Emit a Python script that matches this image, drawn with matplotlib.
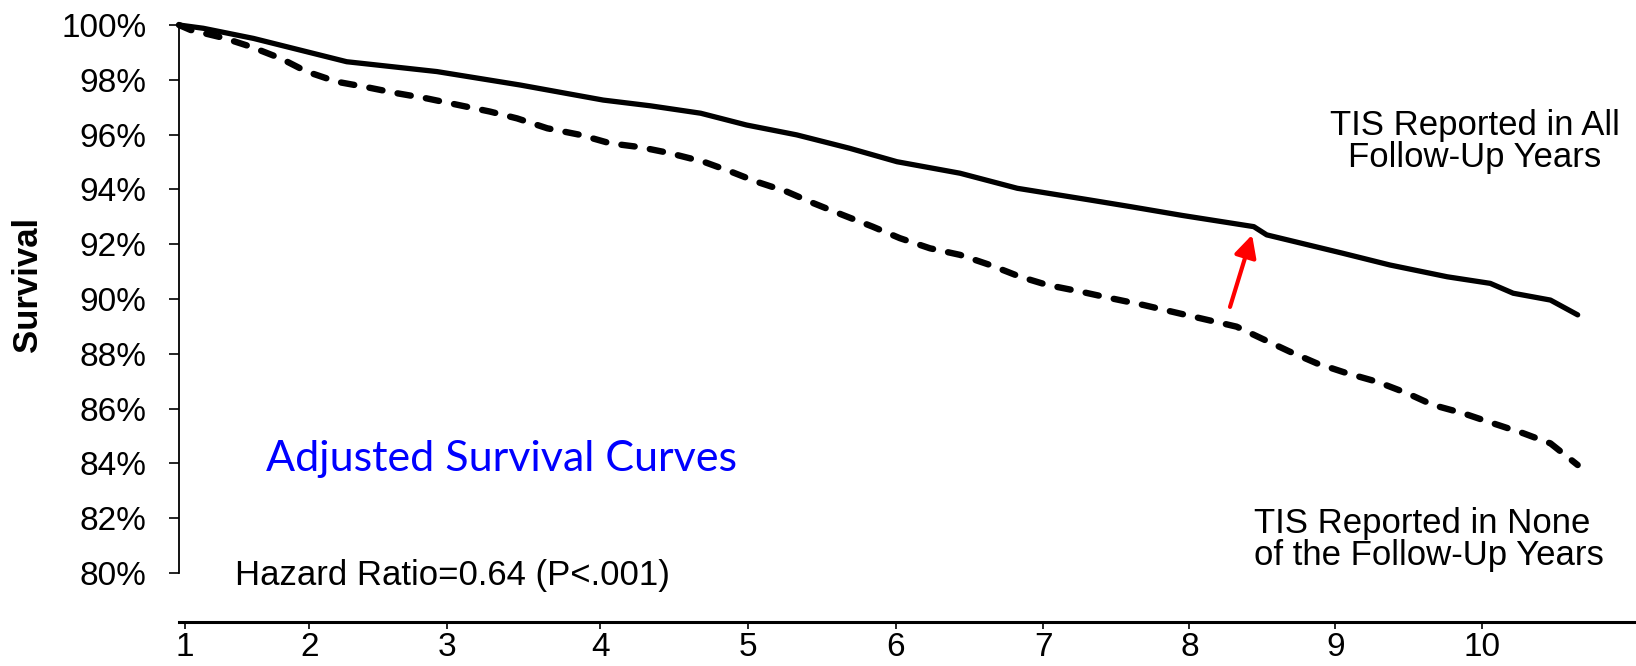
import matplotlib
matplotlib.use('Agg')
import matplotlib.pyplot as plt

plt.rcParams['font.family'] = ['Liberation Sans', 'DejaVu Sans']

# survival curves (years since baseline, survival %)
years_all = [1.0, 1.17, 1.52, 2.17, 2.80, 3.38, 3.96, 4.29, 4.64, 4.96, 5.31, 5.68,
             6.01, 6.45, 6.85, 7.36, 7.64, 8.0, 8.50, 8.59, 9.12, 9.45, 9.85,
             10.15, 10.31, 10.57, 10.76]
surv_all = [100.0, 99.88, 99.51, 98.66, 98.30, 97.81, 97.26, 97.05, 96.78, 96.35, 95.99, 95.50,
            95.01, 94.59, 94.04, 93.61, 93.37, 93.05, 92.64, 92.34, 91.67, 91.24, 90.81,
            90.57, 90.21, 89.96, 89.42]

years_none = [1.0, 1.08, 1.31, 1.50, 1.71, 1.89, 2.10, 2.31, 2.52, 2.73, 2.95, 3.17,
              3.36, 3.57, 3.80, 4.01, 4.22, 4.41, 4.66, 4.85, 5.03, 5.24, 5.43, 5.63,
              5.84, 6.03, 6.24, 6.45, 6.66, 6.87, 7.06, 7.29, 7.50, 7.73, 8.0, 8.38,
              8.55, 8.75, 8.94, 9.15, 9.36, 9.57, 9.75, 9.96, 10.17, 10.38, 10.57, 10.76]
surv_none = [100.0, 99.82, 99.53, 99.21, 98.78, 98.30, 97.93, 97.73, 97.51, 97.32, 97.08, 96.84,
             96.59, 96.23, 95.99, 95.68, 95.54, 95.34, 95.01, 94.65, 94.28, 93.92, 93.49, 93.07,
             92.64, 92.22, 91.85, 91.61, 91.24, 90.81, 90.51, 90.27, 90.03, 89.78, 89.45, 88.99,
             88.57, 88.08, 87.65, 87.29, 86.98, 86.56, 86.13, 85.83, 85.46, 85.10, 84.73, 83.94]

# x ticks sit a bit unevenly in the original drawing
xtick_pos = [1.04, 1.91, 2.87, 3.94, 4.97, 6.0, 7.03, 8.05, 9.07, 10.09]
xtick_labels = ['1', '2', '3', '4', '5', '6', '7', '8', '9', '10']
ytick_vals = [80, 82, 84, 86, 88, 90, 92, 94, 96, 98, 100]

fig = plt.figure(figsize=(16.36, 6.66), dpi=100)
ax = fig.add_axes([179 / 1636, 44 / 666, 1 - 179 / 1636, 597 / 666])

ax.plot(years_all, surv_all, color='black', lw=3.8, solid_capstyle='round',
        solid_joinstyle='round', clip_on=False, zorder=3)
ax.plot(years_none, surv_none, color='black', lw=4.6, dashes=(2.1, 2.4),
        dash_capstyle='round', clip_on=False, zorder=3)

ax.set_xlim(1.0, 11.167)
ax.set_ylim(78.21, 100.0)

ax.spines['top'].set_visible(False)
ax.spines['right'].set_visible(False)
ax.spines['left'].set_bounds(80, 100)
ax.spines['left'].set_linewidth(1.3)
ax.spines['bottom'].set_linewidth(2.2)

ax.set_yticks(ytick_vals)
ax.set_yticklabels(['%d%%' % v for v in ytick_vals])
ax.set_xticks(xtick_pos)
ax.set_xticklabels(xtick_labels)
ax.tick_params(axis='y', length=7.5, width=1.2, pad=16, labelsize=24)
ax.tick_params(axis='x', length=5, width=1.2, pad=2, labelsize=24)

fig.text(27.5 / 1636, (666 - 284) / 666, 'Survival', rotation=90, fontsize=25,
         fontweight='bold', ha='center', va='center')

ax.text(10.044, 95.75, 'TIS Reported in All\nFollow-Up Years', fontsize=25,
        ha='center', va='center', multialignment='center', linespacing=0.95)
ax.text(8.502, 81.22, 'TIS Reported in None\nof the Follow-Up Years', fontsize=25,
        ha='left', va='center', multialignment='left', linespacing=0.95)
ax.text(3.247, 84.16, 'Adjusted Survival Curves', fontsize=31, color='#0000FF',
        family=['Lato', 'DejaVu Sans'], ha='center', va='center')
ax.text(1.391, 79.89, 'Hazard Ratio=0.64 (P<.001)', fontsize=25, ha='left', va='center',
        clip_on=False)

ax.annotate('', xy=(8.488, 92.34), xytext=(8.334, 89.71),
            arrowprops=dict(arrowstyle='-|>,head_length=0.55,head_width=0.28',
                            color='#FF0000', lw=3, mutation_scale=24,
                            shrinkA=0, shrinkB=0))

fig.savefig('out.png', dpi=100)
